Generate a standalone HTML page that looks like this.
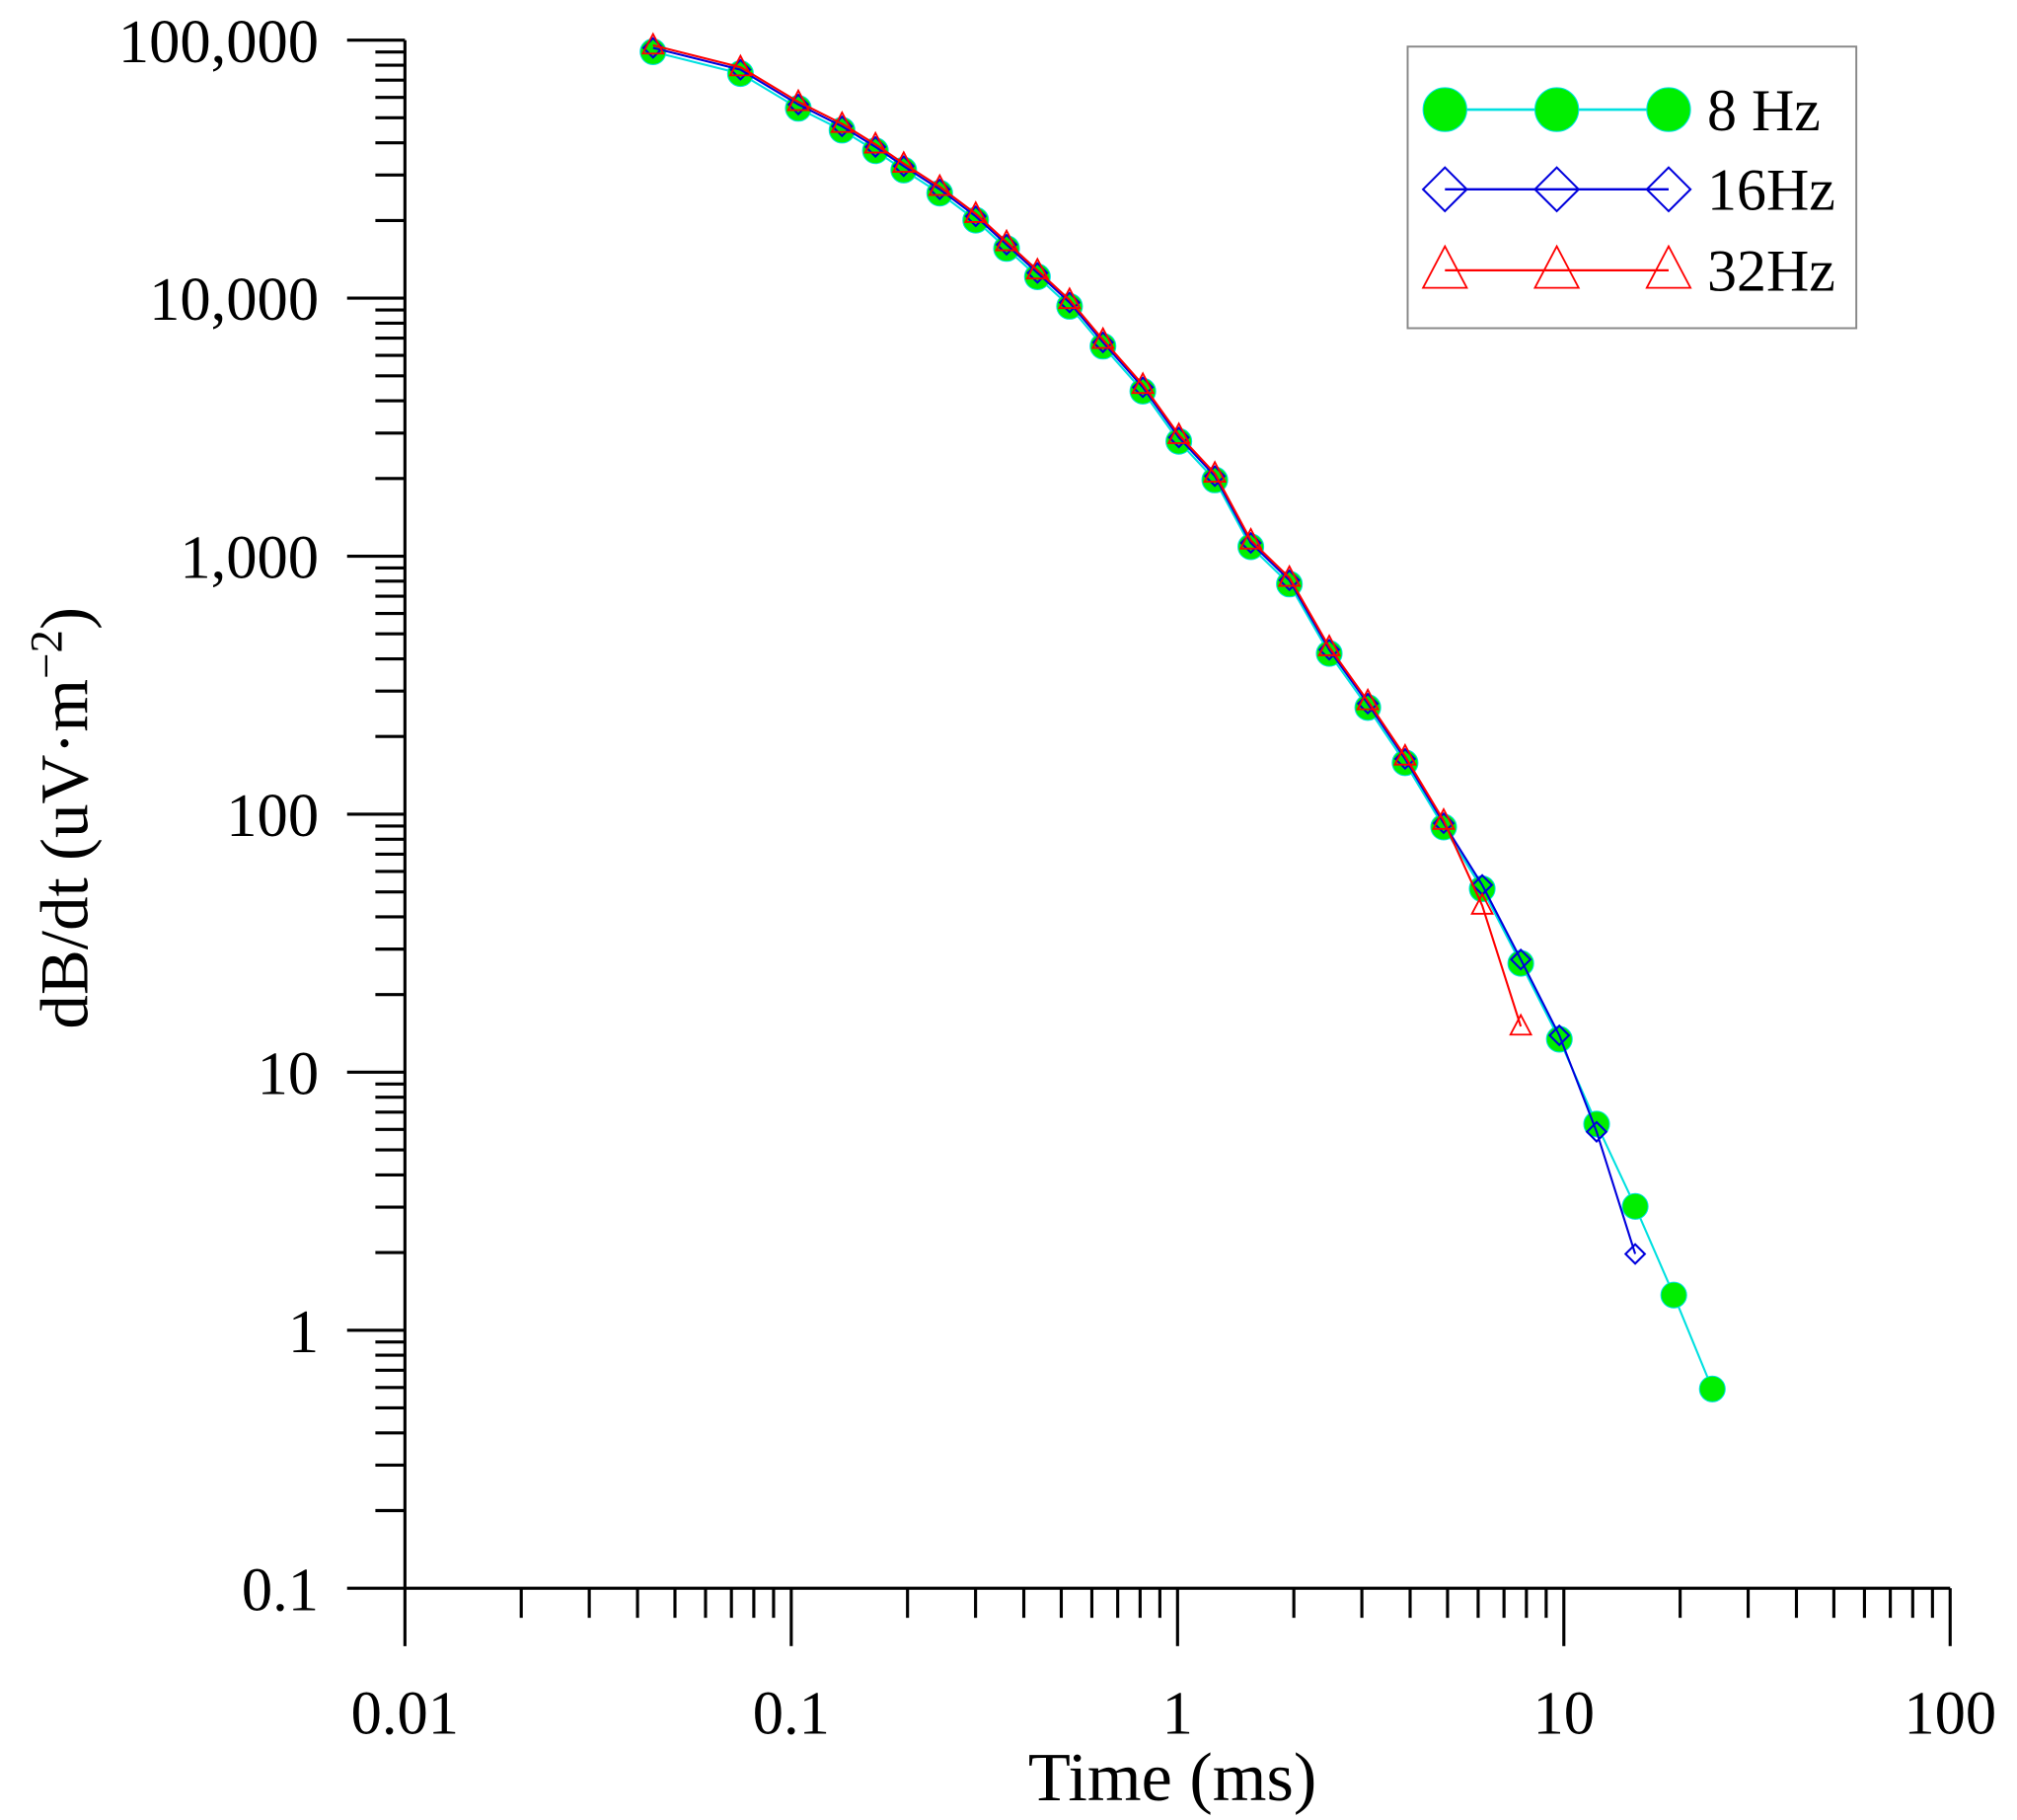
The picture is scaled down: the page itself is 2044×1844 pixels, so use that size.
<!DOCTYPE html>
<html><head><meta charset="utf-8"><style>html,body{margin:0;padding:0;background:#fff}svg{display:block}</style></head>
<body>
<svg id="s" width="2044" height="1844" viewBox="0 0 1569 1415" xmlns="http://www.w3.org/2000/svg" font-family="'Liberation Serif', serif">
<rect width="1569" height="1415" fill="#fff"/>
<g id="ax" stroke="#000" stroke-width="2.4" fill="none"></g>
<g id="lab" font-size="48" fill="#000"></g>
<g id="data"></g>
<text x="912" y="1400" font-size="54" text-anchor="middle">Time (ms)</text>
<text transform="translate(68,636) rotate(-90)" font-size="53" text-anchor="middle">dB/dt (uV·m<tspan font-size="36" dy="-20">−2</tspan><tspan dy="20">)</tspan></text>
<rect x="1095" y="36" width="349" height="219" fill="#fff" stroke="#888" stroke-width="1.5"/>
<g id="leg"></g>
</svg>
<script>
const NS="http://www.w3.org/2000/svg";
function el(p,t,a,txt){const e=document.createElementNS(NS,t);for(const k in a)e.setAttribute(k,a[k]);if(txt!==undefined)e.textContent=txt;p.appendChild(e);return e;}
const ax=document.getElementById('ax'),lab=document.getElementById('lab');
const X0=315,XD=300.5,Y0=1235,YD=200.67;
el(ax,'line',{x1:270,y1:Y0,x2:1517,y2:Y0});
el(ax,'line',{x1:X0,y1:31,x2:X0,y2:Y0+45});
for(let d=0;d<4;d++){for(let m=2;m<=9;m++){const x=X0+XD*(d+Math.log10(m));el(ax,'line',{x1:x,y1:Y0,x2:x,y2:Y0+23});}}
for(let d=1;d<=4;d++){const x=X0+XD*d;el(ax,'line',{x1:x,y1:Y0,x2:x,y2:Y0+45});}
const xl=['0.01','0.1','1','10','100'];
xl.forEach((t,i)=>el(lab,'text',{x:X0+XD*i,y:1348,'text-anchor':'middle'},t));
for(let d=0;d<6;d++){for(let m=2;m<=9;m++){const y=Y0-YD*(d+Math.log10(m));el(ax,'line',{x1:X0,y1:y,x2:X0-23,y2:y});}}
for(let d=1;d<=6;d++){const y=Y0-YD*d;el(ax,'line',{x1:X0,y1:y,x2:X0-45,y2:y});}
const yl=['0.1','1','10','100','1,000','10,000','100,000'];
yl.forEach((t,i)=>el(lab,'text',{x:248,y:Y0-YD*i+17,'text-anchor':'end'},t));
const p8=[[508,40],[576,57],[621,84],[655,101],[681,117],[703,132],[731,150],[759,171],[783,193],[807,215],[832,238],[858,269],[889,304],[917,343],[945,373],[973,425],[1003,454],[1034,508],[1064,550],[1093,593],[1123,643],[1153,691],[1183,749],[1213,808],[1242,874],[1272,938],[1302,1007],[1332,1080]];
const p16=p8.slice(0,24).map(p=>[p[0],p[1]-3]);p16.push([1242,880],[1272,975]);
const p32=p8.slice(0,21).map(p=>[p[0],p[1]-5]);p32.push([1153,704],[1183,798]);
const data=document.getElementById('data');
function pl(pts,c){el(data,'polyline',{points:pts.map(p=>p.join(',')).join(' '),fill:'none',stroke:c,'stroke-width':1.6});}
function circ(g,x,y,r){el(g,'circle',{cx:x,cy:y,r:r,fill:'#00ee00',stroke:'#00e0e0','stroke-width':0.8});}
function dia(g,x,y,r){el(g,'polygon',{points:`${x-r},${y} ${x},${y-r} ${x+r},${y} ${x},${y+r}`,fill:'none',stroke:'#0000dd','stroke-width':1.6});}
function tri(g,x,y,r){el(g,'polygon',{points:`${x-r},${y+r*0.8} ${x},${y-r*1.1} ${x+r},${y+r*0.8}`,fill:'none',stroke:'#ff0000','stroke-width':1.4});}
pl(p8,'#00e0e0');p8.forEach(p=>circ(data,p[0],p[1],10));
pl(p16,'#0000dd');p16.forEach(p=>dia(data,p[0],p[1],7.5));
pl(p32,'#ff0000');p32.forEach(p=>tri(data,p[0],p[1],8));
const leg=document.getElementById('leg');const lx=[1124,1211,1298];
el(leg,'line',{x1:1124,y1:85,x2:1298,y2:85,stroke:'#00e0e0','stroke-width':2});lx.forEach(x=>circ(leg,x,85,17));
el(leg,'line',{x1:1124,y1:147,x2:1298,y2:147,stroke:'#0000dd','stroke-width':1.8});lx.forEach(x=>dia(leg,x,147,17));
el(leg,'line',{x1:1124,y1:210,x2:1298,y2:210,stroke:'#ff0000','stroke-width':1.8});lx.forEach(x=>tri(leg,x,210,17));
[['8 Hz',85],['16Hz',147],['32Hz',210]].forEach(a=>el(leg,'text',{x:1328,y:a[1]+16,'font-size':46,fill:'#000'},a[0]));
</script>
</body></html>
